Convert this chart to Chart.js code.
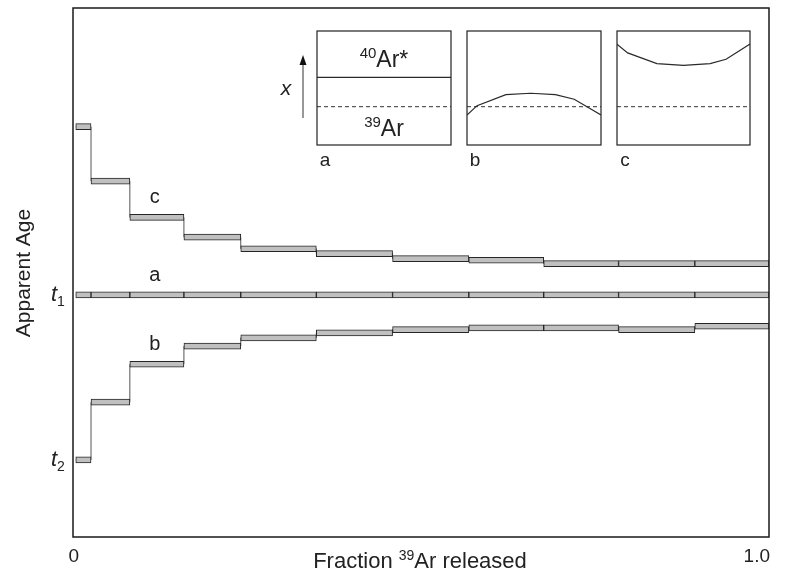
<!DOCTYPE html>
<html>
<head>
<meta charset="utf-8">
<script src="https://cdn.jsdelivr.net/npm/chart.js@4.4.1/dist/chart.umd.min.js"></script>
<style>
  body { margin: 0; background: #fff; }
  #wrap { position: relative; width: 789px; height: 574px; }
  #wrap canvas { position: absolute; }
</style>
</head>
<body>
<div id="wrap">
  <canvas id="main" width="789" height="574" style="left:0;top:0"></canvas>
  <canvas id="insetA" width="136" height="145" style="left:316px;top:30px"></canvas>
  <canvas id="insetB" width="136" height="145" style="left:466px;top:30px"></canvas>
  <canvas id="insetC" width="135" height="145" style="left:616px;top:30px"></canvas>
</div>
<script>
// step boundaries (fraction of 39Ar released)
var steps = [0, 0.022, 0.078, 0.156, 0.238, 0.347, 0.457, 0.567, 0.675, 0.783, 0.893, 1.0];
// apparent ages per step (t2 = 1, t1 = 2)
var ageA = [2, 2, 2, 2, 2, 2, 2, 2, 2, 2, 2];
var ageB = [1.00, 1.35, 1.58, 1.69, 1.74, 1.77, 1.79, 1.80, 1.80, 1.79, 1.81];
var ageC = [3.02, 2.69, 2.47, 2.35, 2.28, 2.25, 2.22, 2.21, 2.19, 2.19, 2.19];
var ageTicks = [{v: 1, sub: '2'}, {v: 2, sub: '1'}];
var curveLabels = [{t: 'c', x: 0.114, y: 2.59}, {t: 'a', x: 0.114, y: 2.12}, {t: 'b', x: 0.114, y: 1.70}];

// inset profiles (x across grain, y = concentration level)
var insetX = [0, 0.075, 0.29, 0.475, 0.66, 0.8, 1.0];
var profB = [0.263, 0.345, 0.442, 0.454, 0.442, 0.401, 0.263];
var profCx = [0, 0.08, 0.3, 0.5, 0.7, 0.82, 1.0];
var profC = [0.885, 0.808, 0.714, 0.699, 0.714, 0.752, 0.885];
var levelA = 0.593;
var level39 = 0.336;

var FONT = '"Liberation Sans", Arial, sans-serif';
var INK = '#222';

function boxes(ages) {
  return ages.map(function(v, i) { return {x: [steps[i], steps[i + 1]], y: v}; });
}
function connector(ages) {
  var pts = ages.map(function(v, i) { return {x: steps[i], y: v}; });
  pts.push({x: 1, y: ages[ages.length - 1]});
  return pts;
}
function barSet(ages) {
  return {
    type: 'bar', indexAxis: 'y', data: boxes(ages), order: 0,
    barThickness: 6, grouped: false,
    backgroundColor: '#c0c0c0', borderColor: '#262626', borderWidth: 1, borderSkipped: false
  };
}
function lineSet(ages) {
  // horizontal first, then vertical at the step end
  return {
    type: 'line', data: connector(ages), order: 1, stepped: 'before',
    borderColor: '#555', borderWidth: 1, pointRadius: 0, fill: false
  };
}

// text with a raised or lowered small part
function drawParts(ctx, parts, x, y, align) {
  var total = 0;
  parts.forEach(function(p) { ctx.font = p.font; p.w = ctx.measureText(p.t).width; total += p.w; });
  var cx = align === 'center' ? x - total / 2 : (align === 'right' ? x - total : x);
  ctx.textAlign = 'left';
  parts.forEach(function(p) {
    ctx.font = p.font;
    ctx.fillText(p.t, cx, y + (p.dy || 0));
    cx += p.w;
  });
}

var mainText = {
  id: 'mainText',
  afterDraw: function(chart) {
    var ctx = chart.ctx, a = chart.chartArea, xs = chart.scales.x, ys = chart.scales.y;
    ctx.save();
    ctx.strokeStyle = '#1a1a1a';
    ctx.lineWidth = 1.5;
    ctx.strokeRect(a.left, a.top, a.right - a.left, a.bottom - a.top);
    ctx.fillStyle = INK;
    ctx.textBaseline = 'middle';
    ctx.font = '19px ' + FONT;
    ctx.textAlign = 'center';
    ctx.fillText('0', xs.getPixelForValue(0) - 2, 557);
    ctx.textAlign = 'right';
    ctx.fillText('1.0', xs.getPixelForValue(1) + 1, 557);
    ctx.textBaseline = 'alphabetic';
    drawParts(ctx, [
      {t: 'Fraction ', font: '22px ' + FONT},
      {t: '39', font: '14px ' + FONT, dy: -8},
      {t: 'Ar released', font: '22px ' + FONT}
    ], 420, 568, 'center');
    ctx.save();
    ctx.translate(30, 273);
    ctx.rotate(-Math.PI / 2);
    ctx.font = '21px ' + FONT;
    ctx.textAlign = 'center';
    ctx.fillText('Apparent Age', 0, 0);
    ctx.restore();
    ageTicks.forEach(function(t) {
      var py = ys.getPixelForValue(t.v);
      drawParts(ctx, [
        {t: 't', font: 'italic 22px ' + FONT},
        {t: t.sub, font: '14px ' + FONT, dy: 5}
      ], 51, py + 6, 'left');
    });
    ctx.font = '20px ' + FONT;
    ctx.textAlign = 'center';
    ctx.textBaseline = 'middle';
    curveLabels.forEach(function(l) {
      ctx.fillText(l.t, xs.getPixelForValue(l.x), ys.getPixelForValue(l.y));
    });
    // x arrow next to inset a
    ctx.strokeStyle = '#333';
    ctx.lineWidth = 1;
    ctx.beginPath();
    ctx.moveTo(303, 118);
    ctx.lineTo(303, 62);
    ctx.stroke();
    ctx.fillStyle = '#111';
    ctx.beginPath();
    ctx.moveTo(303, 55);
    ctx.lineTo(299.5, 65);
    ctx.lineTo(306.5, 65);
    ctx.closePath();
    ctx.fill();
    ctx.fillStyle = INK;
    ctx.font = 'italic 21px ' + FONT;
    ctx.fillText('x', 286, 89);
    ctx.restore();
  }
};

new Chart(document.getElementById('main'), {
  type: 'bar',
  data: {
    datasets: [barSet(ageC), barSet(ageA), barSet(ageB), lineSet(ageC), lineSet(ageA), lineSet(ageB)]
  },
  options: {
    responsive: false,
    animation: false,
    layout: {padding: {left: 73, right: 20, top: 8, bottom: 37}},
    plugins: {legend: {display: false}, tooltip: {enabled: false}},
    scales: {
      x: {type: 'linear', min: -0.004, max: 1, offset: false, display: false},
      y: {type: 'linear', min: 0.533, max: 3.739, offset: false, beginAtZero: false, display: false}
    }
  },
  plugins: [mainText]
});

function insetFrame(label, extra) {
  return {
    id: 'frame' + label,
    afterDraw: function(chart) {
      var ctx = chart.ctx, a = chart.chartArea;
      ctx.save();
      ctx.strokeStyle = '#222';
      ctx.lineWidth = 1.2;
      ctx.strokeRect(a.left, a.top, a.right - a.left, a.bottom - a.top);
      ctx.fillStyle = INK;
      ctx.font = '19px ' + FONT;
      ctx.textAlign = 'center';
      ctx.textBaseline = 'middle';
      ctx.fillText(label, a.left + 8, a.bottom + 16);
      if (extra) extra(chart);
      ctx.restore();
    }
  };
}
function pts(xs, ys) {
  return xs.map(function(x, i) { return {x: x, y: ys[i]}; });
}
function insetChart(id, datasets, label, extra) {
  new Chart(document.getElementById(id), {
    type: 'line',
    data: {datasets: datasets},
    options: {
      responsive: false,
      animation: false,
      layout: {padding: {left: 1, right: 1, top: 1, bottom: 30}},
      plugins: {legend: {display: false}, tooltip: {enabled: false}},
      scales: {
        x: {type: 'linear', min: 0, max: 1, display: false},
        y: {type: 'linear', min: 0, max: 1, display: false}
      }
    },
    plugins: [insetFrame(label, extra)]
  });
}
function solid(data) {
  return {data: data, borderColor: '#2a2a2a', borderWidth: 1.2, pointRadius: 0, fill: false};
}
function dashed() {
  return {data: pts([0, 1], [level39, level39]), borderColor: '#333', borderWidth: 1,
    borderDash: [4, 3], pointRadius: 0, fill: false};
}

insetChart('insetA', [solid(pts([0, 1], [levelA, levelA])), dashed()], 'a', function(chart) {
  var ctx = chart.ctx, xs = chart.scales.x, ys = chart.scales.y;
  ctx.textBaseline = 'alphabetic';
  drawParts(ctx, [
    {t: '40', font: '15px ' + FONT, dy: -9},
    {t: 'Ar*', font: '23px ' + FONT}
  ], xs.getPixelForValue(0.5), ys.getPixelForValue(0.68), 'center');
  drawParts(ctx, [
    {t: '39', font: '15px ' + FONT, dy: -9},
    {t: 'Ar', font: '23px ' + FONT}
  ], xs.getPixelForValue(0.5), ys.getPixelForValue(0.08), 'center');
});
insetChart('insetB', [solid(pts(insetX, profB)), dashed()], 'b');
insetChart('insetC', [solid(pts(profCx, profC)), dashed()], 'c');
</script>
</body>
</html>
